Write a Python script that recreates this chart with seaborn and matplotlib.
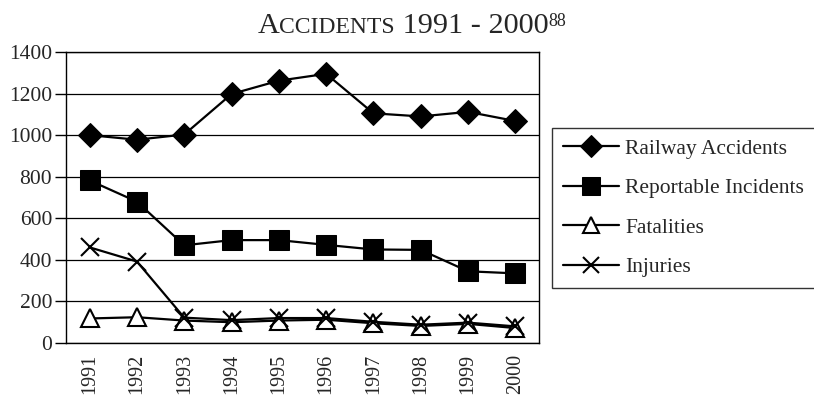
import numpy as np
import pandas as pd
import matplotlib
matplotlib.use("Agg")
import matplotlib.pyplot as plt
import seaborn as sns

# values
years = ["1991", "1992", "1993", "1994", "1995", "1996", "1997", "1998", "1999", "2000"]
railway_accidents = [1000, 978, 1003, 1198, 1262, 1295, 1105, 1090, 1112, 1068]
reportable_incidents = [782, 680, 470, 495, 495, 472, 450, 448, 345, 335]
fatalities = [118, 124, 108, 100, 108, 112, 95, 82, 92, 72]
injuries = [460, 392, 122, 110, 120, 120, 102, 88, 98, 80]
y_ticks = [0, 200, 400, 600, 800, 1000, 1200, 1400]

series = {
    "Railway Accidents": railway_accidents,
    "Reportable Incidents": reportable_incidents,
    "Fatalities": fatalities,
    "Injuries": injuries,
}
styles = {
    "Railway Accidents": dict(marker="D", markersize=12, markerfacecolor="black"),
    "Reportable Incidents": dict(marker="s", markersize=14, markerfacecolor="black"),
    "Fatalities": dict(marker="^", markersize=13, markerfacecolor="white", markeredgewidth=1.5),
    "Injuries": dict(marker="x", markersize=13, markeredgewidth=1.5),
}

sns.set_style("white")
plt.rcParams["font.family"] = ["Liberation Serif", "DejaVu Serif"]

fig = plt.figure(figsize=(8.14, 4.08), dpi=100)
ax = fig.add_axes([66 / 814, 1 - 343 / 408, (539 - 66) / 814, (343 - 52) / 408])

for name, vals in series.items():
    df = pd.DataFrame({"x": np.arange(len(years)), "y": vals})
    sns.lineplot(data=df, x="x", y="y", ax=ax, color="black", linewidth=1.6,
                 markeredgecolor="black", label=name, legend=False, **styles[name])

ax.set_xlim(-0.5, len(years) - 0.5)
ax.set_ylim(0, 1400)
ax.set_yticks(y_ticks)
ax.set_yticklabels([str(v) for v in y_ticks], fontsize=15.5)
ax.set_xticks(np.arange(len(years)))
ax.set_xticklabels(years, rotation=90, fontsize=14.5)
ax.set_xticks(np.arange(len(years) + 1) - 0.5, minor=True)
ax.tick_params(axis="x", which="major", length=0, pad=8)
ax.tick_params(axis="x", which="minor", length=8, width=1, direction="out", color="black")
ax.tick_params(axis="y", length=8, width=1, direction="out", color="black", pad=2, left=True)
ax.grid(axis="y", color="black", linewidth=0.9)
ax.set_axisbelow(True)
for s in ax.spines.values():
    s.set_color("black")
    s.set_linewidth(1)
ax.set_xlabel("")
ax.set_ylabel("")

handles, labels = ax.get_legend_handles_labels()
leg = fig.legend(handles, labels, loc="upper left",
                 bbox_to_anchor=(552 / 814, 0, 1 - 552 / 814 + 0.01, 1 - 128 / 408),
                 mode="expand", frameon=True, fancybox=False, fontsize=15.5,
                 handlelength=2.6, handletextpad=0.3, labelspacing=0.9,
                 borderpad=0.5, borderaxespad=0, markerscale=0.9)
leg.get_frame().set_edgecolor("black")
leg.get_frame().set_linewidth(1)

# title with small caps and superscript, laid out piece by piece
pieces = [("A", 21.8, 0), ("CCIDENTS", 17, 0), (" 1991 - 2000", 21.8, 0), ("88", 13, 7)]
renderer = fig.canvas.get_renderer()
texts = []
for txt, size, rise in pieces:
    t = fig.text(0, 0, txt, fontsize=size, ha="left", va="baseline")
    texts.append((t, rise))
widths = [t.get_window_extent(renderer).width for t, _ in texts]
total = sum(widths)
x0 = 412 - total / 2
base_y = 408 - 33
for (t, rise), w in zip(texts, widths):
    t.set_position((x0 / 814, (base_y + rise) / 408))
    x0 += w

fig.savefig("out.png", dpi=100)
